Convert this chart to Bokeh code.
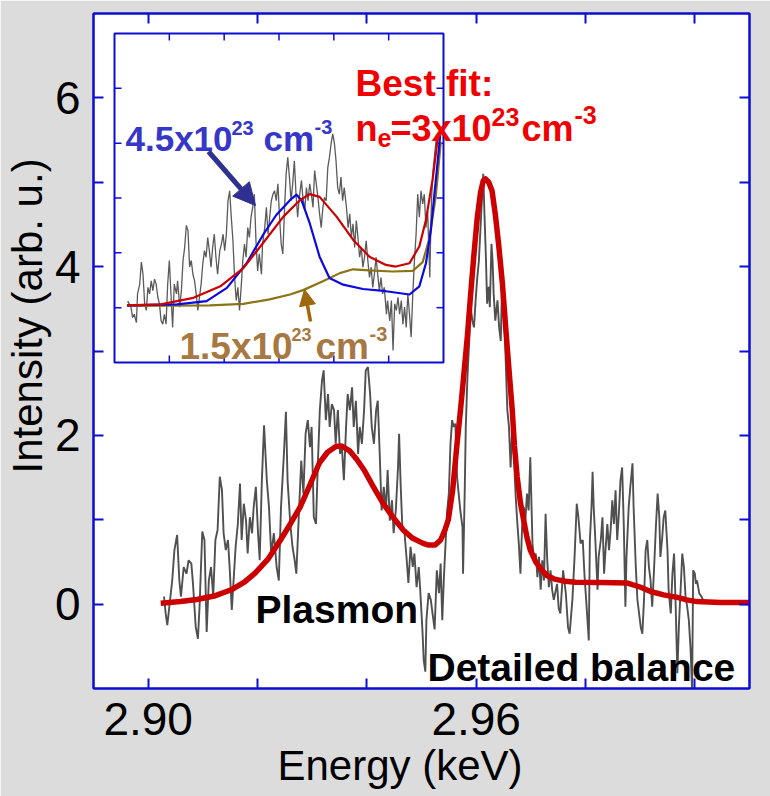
import math
from bokeh.plotting import figure
from bokeh.models import (Range1d, LinearAxis, FixedTicker, PrintfTickFormatter,
                          Label, Arrow, NormalHead, Title)
from bokeh.embed import file_html
from bokeh.resources import INLINE

# ---------------- measured spectrum (main panel) ----------------
energy = [
    2.9029, 2.9032, 2.9035, 2.9044, 2.9048, 2.9053, 2.9057, 2.9060, 2.9065, 2.9070,
    2.9074, 2.9079, 2.9082, 2.9087, 2.9091, 2.9094, 2.9099, 2.9103, 2.9107, 2.9111,
    2.9115, 2.9119, 2.9123, 2.9127, 2.9131, 2.9135, 2.9138, 2.9142, 2.9146, 2.9149,
    2.9153, 2.9157, 2.9160, 2.9164, 2.9168, 2.9171, 2.9175, 2.9179, 2.9182, 2.9186,
    2.9190, 2.9193, 2.9197, 2.9201, 2.9204, 2.9208, 2.9212, 2.9217, 2.9221, 2.9225,
    2.9230, 2.9235, 2.9239, 2.9243, 2.9248, 2.9252, 2.9255, 2.9260, 2.9264, 2.9268,
    2.9271, 2.9276, 2.9280, 2.9284, 2.9288, 2.9292, 2.9296, 2.9299, 2.9303, 2.9307,
    2.9310, 2.9314, 2.9318, 2.9321, 2.9325, 2.9329, 2.9332, 2.9336, 2.9340, 2.9343,
    2.9347, 2.9351, 2.9354, 2.9358, 2.9362, 2.9365, 2.9369, 2.9373, 2.9376, 2.9380,
    2.9384, 2.9387, 2.9391, 2.9395, 2.9398, 2.9402, 2.9406, 2.9409, 2.9413, 2.9417,
    2.9420, 2.9424, 2.9427, 2.9431, 2.9435, 2.9438, 2.9442, 2.9446, 2.9449, 2.9453,
    2.9457, 2.9459, 2.9462, 2.9465, 2.9469, 2.9473, 2.9476, 2.9480, 2.9484, 2.9487,
    2.9491, 2.9495, 2.9498, 2.9502, 2.9504, 2.9507, 2.9509, 2.9513, 2.9517, 2.9520,
    2.9524, 2.9528, 2.9532, 2.9535, 2.9538, 2.9541, 2.9544, 2.9547, 2.9550, 2.9553,
    2.9556, 2.9559, 2.9562, 2.9565, 2.9568, 2.9571, 2.9575, 2.9576, 2.9579, 2.9581,
    2.9584, 2.9587, 2.9590, 2.9593, 2.9596, 2.9599, 2.9602, 2.9605, 2.9608, 2.9611,
    2.9613, 2.9615, 2.9618, 2.9620, 2.9623, 2.9625, 2.9628, 2.9630, 2.9632, 2.9635,
    2.9639, 2.9642, 2.9645, 2.9648, 2.9651, 2.9654, 2.9657, 2.9660, 2.9663, 2.9666,
    2.9669, 2.9672, 2.9675, 2.9678, 2.9681, 2.9684, 2.9687, 2.9690, 2.9693, 2.9696,
    2.9699, 2.9703, 2.9706, 2.9709, 2.9712, 2.9715, 2.9718, 2.9721, 2.9724, 2.9727,
    2.9730, 2.9733, 2.9736, 2.9739, 2.9742, 2.9748, 2.9751, 2.9754, 2.9759, 2.9764,
    2.9768, 2.9771, 2.9776, 2.9780, 2.9784, 2.9787, 2.9791, 2.9795, 2.9798, 2.9802,
    2.9806, 2.9808, 2.9811, 2.9813, 2.9815, 2.9818, 2.9822, 2.9824, 2.9828, 2.9831,
    2.9834, 2.9837, 2.9840, 2.9843, 2.9846, 2.9849, 2.9852, 2.9855, 2.9858, 2.9861,
    2.9864, 2.9867, 2.9870, 2.9873, 2.9875, 2.9879, 2.9882, 2.9886, 2.9888, 2.9892,
    2.9895, 2.9898, 2.9901, 2.9904, 2.9907, 2.9910, 2.9913, 2.9916, 2.9919, 2.9922,
    2.9925, 2.9929, 2.9932, 2.9935, 2.9937, 2.9940, 2.9943, 2.9946, 2.9950, 2.9952,
    2.9956, 2.9959, 2.9962, 2.9965, 2.9968, 2.9971, 2.9974, 2.9977, 2.9980, 2.9983,
    2.9986, 2.9989, 2.9992, 2.9995, 2.9997, 3.0000, 3.0002, 3.0004, 3.0008, 3.0012,
    3.0015,
]
intensity = [
    0.09, -0.11, -0.25, 0.28, 0.64, 0.82, 0.28, 0.09, 0.44, 0.36,
    0.52, 0.48, 0.24, -0.27, -0.41, -0.03, 0.86, 0.76, -0.33, 0.28,
    0.44, 0.09, 0.76, 0.88, 1.51, 1.35, 0.84, 0.64, 0.76, 0.44,
    -0.07, 0.36, 0.68, 0.95, 1.43, 0.76, 1.19, 0.99, 0.60, 1.03,
    0.84, 1.15, 1.39, 0.84, 0.52, 1.47, 2.12, 1.47, 1.15, 0.60,
    0.84, 0.44, 0.28, 1.15, 1.74, 2.28, 1.47, 0.95, 0.68, 0.52,
    0.36, 1.11, 1.70, 1.31, 2.02, 2.18, 1.86, 2.10, 1.03, 0.95,
    1.59, 2.30, 2.65, 2.77, 2.18, 2.49, 2.10, 2.37, 2.30, 1.90,
    2.30, 1.78, 1.90, 1.47, 2.10, 2.49, 2.30, 2.57, 2.10, 2.41,
    1.78, 2.10, 1.90, 2.30, 2.77, 2.81, 2.49, 2.10, 1.90, 2.30,
    2.41, 1.70, 1.11, 1.39, 1.11, 1.59, 0.99, 1.23, 0.84, 1.11,
    1.62, 2.02, 1.39, 0.91, 0.84, 0.52, 0.25, 0.68, 0.44, 0.60,
    0.20, 0.44, 0.13, -0.35, -0.66, -0.80, -0.19, 0.13, 0.05, -0.10,
    -0.30, 0.40, 0.13, 0.48, -0.19, 0.32, 0.72, 1.11, 1.31, 1.90,
    2.18, 2.10, 2.14, 1.51, 1.31, 1.11, 0.91, 0.36, 1.31, 2.10,
    2.69, 3.08, 3.52, 3.36, 3.28, 3.60, 3.87, 4.07, 4.47, 4.86,
    5.10, 4.66, 4.07, 3.56, 3.76, 3.52, 4.27, 4.07, 3.68, 3.36,
    3.60, 3.28, 3.12, 3.95, 3.48, 2.89, 2.30, 2.10, 1.62, 2.10,
    1.78, 1.31, 0.99, 0.72, 0.36, 0.91, 1.15, 0.99, 1.31, 1.11,
    1.74, 0.72, 0.52, 0.60, 0.32, 0.56, 0.17, 0.52, 0.28, 1.07,
    0.52, 0.20, 0.40, 0.17, 0.05, 0.24, -0.05, -0.11, 0.40, 0.13,
    -0.27, -0.35, 0.05, 0.56, 1.19, 1.03, 0.72, 0.76, 0.36, -0.03,
    -0.43, 0.76, 1.15, 1.57, 1.15, 0.76, 0.17, 0.56, 0.76, 1.03,
    0.36, 0.68, 0.95, 0.64, 0.88, 1.23, 0.95, 1.35, 0.76, 1.07,
    1.47, 1.62, 0.95, -0.03, 0.56, 1.15, 1.39, 1.67, 1.15, 0.44,
    0.05, -0.11, -0.27, -0.35, 0.05, 0.64, 0.76, 0.44, 0.28, -0.03,
    0.36, 0.95, 1.31, 1.03, 0.56, 0.76, 1.03, 1.11, 0.64, 0.17,
    -0.11, 0.36, 0.60, -0.03, -0.82, -0.23, 0.17, 0.60, 0.44, 0.09,
    -0.03, -0.19, -0.51, -1.02, 0.40, 0.36, 0.24, 0.28, 0.13, 0.09,
    0.05,
]

# best-fit synthetic spectrum (n_e = 3e23 cm^-3)
fit_energy = [
    2.9023, 2.9059, 2.9089, 2.9123, 2.9152, 2.9176, 2.9196, 2.9220, 2.9242, 2.9260,
    2.9278, 2.9295, 2.9313, 2.9328, 2.9344, 2.9355, 2.9368, 2.9381, 2.9395, 2.9412,
    2.9430, 2.9449, 2.9467, 2.9484, 2.9503, 2.9513, 2.9525, 2.9535, 2.9543, 2.9549,
    2.9557, 2.9565, 2.9571, 2.9577, 2.9584, 2.9590, 2.9596, 2.9602, 2.9608, 2.9613,
    2.9617, 2.9623, 2.9629, 2.9635, 2.9641, 2.9648, 2.9654, 2.9660, 2.9666, 2.9670,
    2.9675, 2.9681, 2.9687, 2.9693, 2.9699, 2.9709, 2.9718, 2.9729, 2.9742, 2.9763,
    2.9782, 2.9827, 2.9877, 2.9901, 2.9919, 2.9943, 2.9968, 2.9985, 3.0004, 3.0047,
    3.0100,
]
fit_intensity = [
    0.01, 0.03, 0.055, 0.10, 0.17, 0.26, 0.37, 0.54, 0.76, 0.95,
    1.15, 1.40, 1.67, 1.80, 1.87, 1.87, 1.82, 1.72, 1.59, 1.39,
    1.19, 1.02, 0.876, 0.78, 0.72, 0.70, 0.70, 0.76, 0.88, 1.00,
    1.35, 1.90, 2.28, 2.69, 3.18, 3.68, 4.15, 4.58, 4.88, 5.02,
    5.04, 5.00, 4.90, 4.62, 4.27, 3.80, 3.28, 2.78, 2.30, 1.88,
    1.51, 1.20, 0.99, 0.79, 0.64, 0.50, 0.42, 0.34, 0.30, 0.27,
    0.26, 0.255, 0.25, 0.20, 0.15, 0.11, 0.08, 0.05, 0.03, 0.02,
    0.02,
]

# ---------------- inset: plasmon region ----------------
inset_energy = [
    2.9024, 2.9030, 2.9033, 2.9036, 2.9040, 2.9042, 2.9046, 2.9049, 2.9052, 2.9055,
    2.9058, 2.9061, 2.9064, 2.9067, 2.9070, 2.9073, 2.9076, 2.9079, 2.9082, 2.9085,
    2.9088, 2.9091, 2.9094, 2.9097, 2.9100, 2.9103, 2.9106, 2.9109, 2.9113, 2.9115,
    2.9119, 2.9122, 2.9125, 2.9128, 2.9131, 2.9134, 2.9137, 2.9140, 2.9143, 2.9146,
    2.9149, 2.9152, 2.9155, 2.9158, 2.9161, 2.9164, 2.9167, 2.9170, 2.9173, 2.9176,
    2.9179, 2.9182, 2.9185, 2.9188, 2.9192, 2.9195, 2.9198, 2.9201, 2.9204, 2.9207,
    2.9210, 2.9213, 2.9216, 2.9219, 2.9222, 2.9225, 2.9228, 2.9231, 2.9234, 2.9237,
    2.9240, 2.9243, 2.9246, 2.9249, 2.9252, 2.9255, 2.9258, 2.9261, 2.9264, 2.9268,
    2.9270, 2.9274, 2.9277, 2.9280, 2.9283, 2.9286, 2.9289, 2.9292, 2.9295, 2.9298,
    2.9301, 2.9304, 2.9307, 2.9310, 2.9313, 2.9316, 2.9319, 2.9322, 2.9325, 2.9328,
    2.9331, 2.9334, 2.9337, 2.9341, 2.9343, 2.9347, 2.9350, 2.9353, 2.9356, 2.9359,
    2.9362, 2.9365, 2.9368, 2.9371, 2.9374, 2.9377, 2.9380, 2.9383, 2.9386, 2.9389,
    2.9392, 2.9395, 2.9398, 2.9401, 2.9404, 2.9407, 2.9410, 2.9413, 2.9416, 2.9419,
    2.9423, 2.9426, 2.9429, 2.9432, 2.9435, 2.9438, 2.9441, 2.9444, 2.9447, 2.9450,
    2.9453, 2.9456, 2.9459, 2.9462, 2.9465, 2.9468, 2.9471, 2.9474, 2.9477, 2.9480,
    2.9483, 2.9486, 2.9489, 2.9492, 2.9496, 2.9498, 2.9502, 2.9505, 2.9508, 2.9511,
    2.9514, 2.9517, 2.9520, 2.9523, 2.9526, 2.9529, 2.9532, 2.9535, 2.9538, 2.9541,
    2.9544, 2.9547, 2.9550, 2.9553, 2.9556, 2.9559, 2.9562, 2.9565, 2.9568, 2.9571,
    2.9575, 2.9578, 2.9581, 2.9584, 2.9587,
]
inset_intensity = [
    0.12, 0.01, -0.18, -0.12, -0.27, 0.25, 0.43, 0.83, 0.61, 0.07,
    -0.05, 0.37, 0.25, 0.49, 0.31, 0.52, 0.43, 0.19, 0.07, -0.24,
    -0.30, -0.12, -0.30, 0.43, 0.86, 0.25, -0.36, 0.43, 0.25, 0.49,
    0.01, 0.31, 0.86, 1.10, 1.50, 1.40, 0.74, 0.86, 0.61, 0.49,
    0.25, -0.05, 0.19, 0.43, 0.80, 1.04, 0.92, 1.28, 1.04, 0.74,
    1.10, 1.34, 0.92, 0.61, 1.04, 1.16, 1.34, 1.04, 1.34, 1.95,
    2.13, 1.65, 1.22, 0.55, 0.13, 0.37, -0.05, 0.37, 0.86, 1.16,
    0.92, 1.46, 1.28, 1.65, 1.83, 2.07, 1.22, 0.67, 0.98, 0.61,
    1.16, 1.46, 1.83, 1.34, 1.65, 1.95, 2.07, 2.13, 1.95, 2.26,
    1.65, 1.16, 0.98, 1.77, 2.44, 2.74, 2.38, 1.95, 2.26, 2.68,
    2.07, 1.65, 2.01, 2.32, 2.07, 1.77, 2.19, 1.95, 2.26, 2.07,
    1.83, 2.50, 2.26, 2.01, 1.71, 1.46, 1.83, 2.01, 1.95, 2.56,
    2.74, 2.99, 3.17, 3.00, 2.68, 2.19, 2.07, 2.38, 1.95, 2.19,
    1.83, 1.46, 1.71, 1.28, 1.53, 1.10, 1.59, 1.28, 0.92, 1.10,
    0.74, 0.92, 1.22, 0.86, 0.55, 0.74, 0.37, 0.61, 0.92, 0.61,
    0.31, 0.55, 0.25, 0.37, -0.12, 0.13, -0.24, 0.13, -0.78, 0.07,
    -0.05, 0.19, -0.12, 0.13, -0.30, 0.01, -0.36, 0.25, -0.12, -0.54,
    0.25, 0.86, 1.34, 2.07, 1.65, 2.13, 1.89, 2.07, 1.46, 1.77,
    0.55, 1.95, 2.50, 2.80, 3.11,
]

# calculated spectra for three electron densities
best_energy = [2.9023, 2.9084, 2.9144, 2.9193, 2.9235, 2.9271, 2.9308, 2.9338, 2.9356,
               2.9374, 2.9405, 2.9435, 2.9465, 2.9495, 2.9513, 2.9538, 2.9556, 2.9568,
               2.9580, 2.9589, 2.9598]
best_fit = [0.04, 0.06, 0.18, 0.39, 0.72, 1.18, 1.66, 1.96, 2.07,
            2.02, 1.66, 1.24, 0.93, 0.78, 0.75, 0.81, 1.12, 1.60,
            2.33, 3.05, 3.30]

high_energy = [2.9023, 2.9114, 2.9168, 2.9205, 2.9241, 2.9271, 2.9295, 2.9320, 2.9332,
               2.9341, 2.9356, 2.9374, 2.9392, 2.9417, 2.9453, 2.9495, 2.9538, 2.9556,
               2.9568, 2.9577, 2.9586, 2.9595]
high_density = [0.04, 0.06, 0.12, 0.36, 0.81, 1.33, 1.69, 1.96, 2.06,
                1.96, 1.54, 0.93, 0.54, 0.42, 0.34, 0.30, 0.24, 0.39,
                0.81, 1.42, 2.33, 3.24]

low_energy = [2.9023, 2.9174, 2.9235, 2.9283, 2.9320, 2.9344, 2.9380, 2.9411, 2.9435,
              2.9465, 2.9507, 2.9544, 2.9562, 2.9574, 2.9586, 2.9595]
low_density = [0.03, 0.04, 0.07, 0.15, 0.24, 0.32, 0.48, 0.63, 0.70,
               0.68, 0.66, 0.67, 0.83, 1.25, 2.04, 3.02]

# ---------------- ticks ----------------
x_ticks = [2.90, 2.96]
x_minor = [2.92, 2.94, 2.98, 3.00]
y_ticks = [0, 2, 4, 6]
y_minor = [1, 3, 5]
inset_x_ticks = [2.91, 2.92, 2.93, 2.94, 2.95]
inset_y_ticks = [0, 1, 2, 3, 4]

# ---------------- layout / styling ----------------
BLUE = "#0c0cd2"
FONT = "Liberation Sans"
W, H = 770, 796
FL, FT, FW, FH = 93, 13, 656, 675          # main frame in pixels
X0, X1, Y0, Y1 = 2.89, 3.01, -1.0, 7.0      # main axis limits
IL, IT, IR, IB = 114, 33, 443, 362          # inset frame in pixels
IX0, IX1, IY0, IY1 = 2.90, 2.96, -1.0, 5.0  # inset axis limits

p = figure(width=W, height=H,
           x_range=Range1d(X0, X1), y_range=Range1d(Y0, Y1),
           output_backend="svg", toolbar_location=None,
           min_border_left=FL, min_border_right=W - FL - FW,
           min_border_top=FT, min_border_bottom=H - FT - FH,
           background_fill_color="white", border_fill_color="#dcdcdc",
           outline_line_color=BLUE, outline_line_width=2)
p.xgrid.visible = False
p.ygrid.visible = False


def style_axis(ax, show_labels, standoff):
    ax.axis_line_color = BLUE
    ax.axis_line_width = 2
    ax.major_tick_line_color = BLUE
    ax.minor_tick_line_color = BLUE
    ax.major_tick_line_width = 2
    ax.minor_tick_line_width = 2
    ax.major_tick_in = 10
    ax.major_tick_out = 0
    ax.minor_tick_in = 10
    ax.minor_tick_out = 0
    ax.major_label_text_font = FONT
    if show_labels:
        ax.major_label_text_color = "black"
        ax.major_label_text_font_size = "46px"
        ax.major_label_standoff = standoff
    else:
        ax.major_label_text_color = None
        ax.major_label_text_font_size = "10px"
        ax.major_label_standoff = 0


xa = p.xaxis[0]
xa.ticker = FixedTicker(ticks=x_ticks, minor_ticks=x_minor)
xa.formatter = PrintfTickFormatter(format="%.2f")
style_axis(xa, True, 14)

ya = p.yaxis[0]
ya.ticker = FixedTicker(ticks=y_ticks, minor_ticks=y_minor)
ya.formatter = PrintfTickFormatter(format="%d")
style_axis(ya, True, 13)

top = LinearAxis(ticker=FixedTicker(ticks=x_ticks, minor_ticks=x_minor))
style_axis(top, False, 0)
p.add_layout(top, "above")
right = LinearAxis(ticker=FixedTicker(ticks=y_ticks, minor_ticks=y_minor))
style_axis(right, False, 0)
p.add_layout(right, "right")

# axis titles, shifted along their sides
p.add_layout(Title(text="Intensity (arb. u.)", align="left", offset=215,
                   vertical_align="middle", standoff=0, text_font=FONT,
                   text_font_size="42px", text_font_style="normal",
                   text_color="black"), "left")
p.add_layout(Title(text="Energy (keV)", align="left", offset=184,
                   vertical_align="top", standoff=8, text_font=FONT,
                   text_font_size="42px", text_font_style="normal",
                   text_color="black"), "below")

# main panel curves
p.line(energy, intensity, line_color="#505050", line_width=1.9)
p.line(fit_energy, fit_intensity, line_color="#cc0000", line_width=5.5,
       line_join="round")

# inset lives on its own ranges, scaled so that its limits land on its box
ipx = (IR - IL) / (IX1 - IX0)
ipy = (IB - IT) / (IY1 - IY0)
p.extra_x_ranges = {"ix": Range1d(IX0 - (IL - FL) / ipx, IX1 + (FL + FW - IR) / ipx)}
p.extra_y_ranges = {"iy": Range1d(IY0 - (FT + FH - IB) / ipy, IY1 + (IT - FT) / ipy)}
ins = dict(x_range_name="ix", y_range_name="iy")

p.quad(left=IX0, right=IX1, bottom=IY0, top=IY1, fill_color="white",
       line_color=BLUE, line_width=2, **ins)

tick_x = 7 / ipx
tick_y = 7 / ipy
p.segment(x0=inset_x_ticks + inset_x_ticks, x1=inset_x_ticks + inset_x_ticks,
          y0=[IY0] * len(inset_x_ticks) + [IY1] * len(inset_x_ticks),
          y1=[IY0 + tick_y] * len(inset_x_ticks) + [IY1 - tick_y] * len(inset_x_ticks),
          line_color=BLUE, line_width=1.5, **ins)
p.segment(y0=inset_y_ticks + inset_y_ticks, y1=inset_y_ticks + inset_y_ticks,
          x0=[IX0] * len(inset_y_ticks) + [IX1] * len(inset_y_ticks),
          x1=[IX0 + tick_x] * len(inset_y_ticks) + [IX1 - tick_x] * len(inset_y_ticks),
          line_color=BLUE, line_width=1.5, **ins)

p.line(inset_energy, inset_intensity, line_color="#5a5a5a", line_width=1.3, **ins)
p.line(low_energy, low_density, line_color="#8c7414", line_width=2.2,
       line_join="round", **ins)
p.line(high_energy, high_density, line_color="#0a0ae0", line_width=2.2,
       line_join="round", **ins)
p.line(best_energy, best_fit, line_color="#cc0000", line_width=2.2,
       line_join="round", **ins)


# ---------------- annotations (placed in pixel terms) ----------------
def at(px, py):
    return (X0 + (px - FL) * (X1 - X0) / FW,
            Y1 - (py - FT) * (Y1 - Y0) / FH)


def text(s, px, py, size, color, style="bold"):
    x, y = at(px, py)
    p.add_layout(Label(x=x, y=y, text=s, text_font=FONT,
                       text_font_size=f"{size}px", text_font_style=style,
                       text_color=color, text_align="left",
                       text_baseline="alphabetic"))


RED = "#f00000"
text("Best fit:", 355, 83, 37, RED)
text("n", 355, 128, 36, RED)
text("e", 377, 137, 25, RED)
text("=3x10", 390, 128, 36, RED)
text("23", 491, 116, 25, RED)
text("cm", 521, 128, 36, RED)
text("-3", 574, 114, 25, RED)

TBLUE = "#3636c8"
text("4.5x10", 125, 138, 35, TBLUE)
text("23", 231, 127, 20, TBLUE)
text("cm", 263, 138, 35, TBLUE)
text("-3", 314, 126, 20, TBLUE)

TBROWN = "#a87842"
text("1.5x10", 179, 346, 37, TBROWN)
text("23", 291, 334, 18, TBROWN)
text("cm", 315, 346, 37, TBROWN)
text("-3", 369, 333, 20, TBROWN)

text("Plasmon", 255, 609, 39, "black")
text("Detailed balance", 427, 667, 39, "black")

for (sx, sy, ex, ey, col, lw, hs) in [
        (208, 151, 255, 205, "#2e3192", 5, 22),
        (310, 321, 304, 289, "#a0680c", 3.5, 16)]:
    xs, ys = at(sx, sy)
    xe, ye = at(ex, ey)
    p.add_layout(Arrow(x_start=xs, y_start=ys, x_end=xe, y_end=ye,
                       line_color=col, line_width=lw,
                       end=NormalHead(size=hs, fill_color=col, line_color=col)))

open("out.html", "w").write(file_html(p, INLINE))
